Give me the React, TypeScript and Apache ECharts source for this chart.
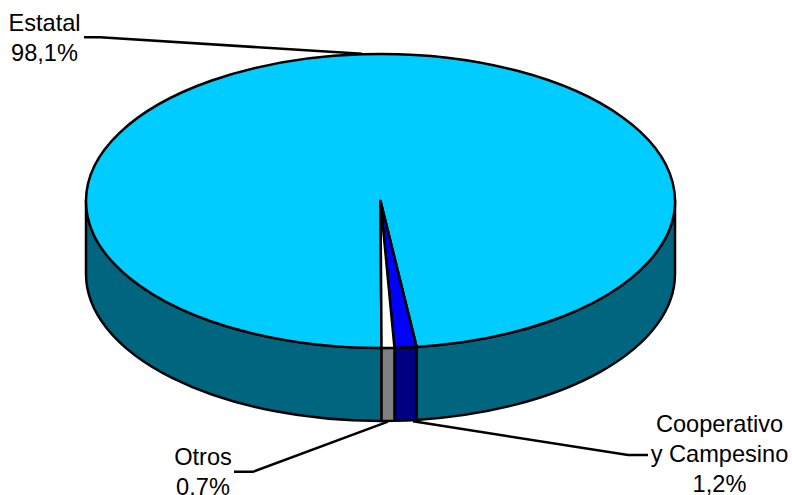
import React, { useEffect, useRef } from "react";
import * as echarts from "echarts";

const categories = [["Estatal"], ["Cooperativo", "y Campesino"], ["Otros"]];
const values = [98.1, 1.2, 0.7];
const valueLabels = ["98,1%", "1,2%", "0.7%"];
const topColors = ["#00CCFF", "#0000FF", "#FFFFFF"];
const sideColors = ["#006680", "#000080", "#808080"];

const CX = 380.5;
const CY = 201;
const RX = 294.5;
const RY = 147;
const DEPTH = 73;
const START = 179.8;
const STROKE = 2.5;
const FONT = "'Liberation Sans', Arial, sans-serif";
const FONT_SIZE = 23.6;

const pt = (deg: number, dy = 0): [number, number] => {
  const r = (deg * Math.PI) / 180;
  return [CX + RX * Math.sin(r), CY - RY * Math.cos(r) + dy];
};

const topPath = (a0: number, a1: number) => {
  const p0 = pt(a0);
  const p1 = pt(a1);
  const large = a1 - a0 > 180 ? 1 : 0;
  return `M${CX} ${CY}L${p0[0]} ${p0[1]}A${RX} ${RY} 0 ${large} 1 ${p1[0]} ${p1[1]}Z`;
};

const wallPath = (a0: number, a1: number) => {
  const p0 = pt(a0);
  const p1 = pt(a1);
  const q1 = pt(a1, DEPTH);
  const q0 = pt(a0, DEPTH);
  return `M${p0[0]} ${p0[1]}A${RX} ${RY} 0 0 1 ${p1[0]} ${p1[1]}L${q1[0]} ${q1[1]}A${RX} ${RY} 0 0 0 ${q0[0]} ${q0[1]}Z`;
};

const frontRanges: [number, number][] = [
  [90, 270],
  [450, 630],
];

const renderSlice = (params: any, api: any) => {
  const i = params.dataIndex;
  const total = values.reduce((s, v) => s + v, 0);
  let a0 = START;
  for (let k = 0; k < i; k++) a0 += (values[k] / total) * 360;
  const a1 = a0 + (api.value(0) / total) * 360;
  const children: any[] = [];
  const lineStyle = { stroke: "#000", lineWidth: STROKE, lineJoin: "round" };
  frontRanges.forEach(([f0, f1]) => {
    const s = Math.max(a0, f0);
    const e = Math.min(a1, f1);
    if (e > s) {
      children.push({
        type: "path",
        shape: { pathData: wallPath(s, e) },
        style: { fill: sideColors[i], ...lineStyle },
      });
    }
  });
  children.push({
    type: "path",
    shape: { pathData: topPath(a0, a1) },
    style: { fill: topColors[i], ...lineStyle },
  });
  return { type: "group", children };
};

const leader = (points: number[][]) => ({
  type: "polyline",
  shape: { points },
  style: { stroke: "#000", lineWidth: STROKE, fill: "none" },
  z: 10,
});

const textLine = (text: string, x: number, y: number) => ({
  type: "text",
  x,
  y,
  style: {
    text,
    fontFamily: FONT,
    fontSize: FONT_SIZE,
    lineHeight: 17,
    fill: "#000",
    align: "center",
    verticalAlign: "middle",
  },
  z: 11,
});

const label = (i: number, x: number, firstY: number) =>
  [...categories[i], valueLabels[i]].map((t, k) => textLine(t, x, firstY + k * 30));

export default function App() {
  const ref = useRef<HTMLDivElement>(null);
  useEffect(() => {
    const chart = echarts.init(ref.current!, undefined, { renderer: "svg" });
    chart.setOption({
      animation: false,
      backgroundColor: "#FFFFFF",
      series: [
        {
          type: "custom",
          coordinateSystem: "none",
          silent: true,
          clip: false,
          data: values.map((v) => [v]),
          encode: { value: 0 },
          renderItem: renderSlice,
        },
      ],
      graphic: [
        leader([[84, 37.3], [100, 37.3], [362, 53.8]]),
        leader([[234, 471.8], [253, 471.8], [388, 421.7]]),
        leader([[648, 455], [628, 455], [413, 421.3]]),
        ...label(0, 44.5, 23),
        ...label(1, 719.5, 424),
        ...label(2, 203, 457),
      ],
    });
    return () => chart.dispose();
  }, []);
  return (
    <div
      ref={ref}
      style={{ position: "absolute", left: 0, top: 0, width: 792, height: 495 }}
    />
  );
}
